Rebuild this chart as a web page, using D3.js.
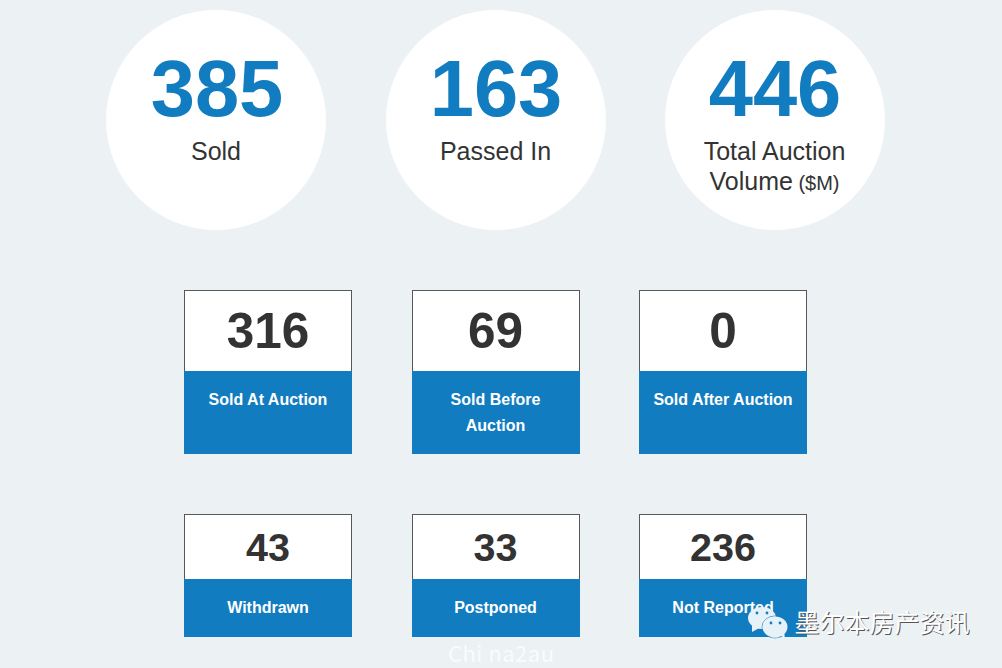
<!DOCTYPE html>
<html>
<head>
<meta charset="utf-8">
<script src="https://cdn.jsdelivr.net/npm/d3@7"></script>
<style>
  html, body { margin: 0; padding: 0; background: #ecf1f4; overflow: hidden; }
  svg { display: block; }
  text { font-family: "Liberation Sans", Arial, sans-serif; text-anchor: middle; }
</style>
</head>
<body>
<script>
var circleValues = [385, 163, 446]
var circleLabels = [['Sold'], ['Passed In'], ['Total Auction', 'Volume']]
var topValues = [316, 69, 0]
var topLabels = [['Sold At Auction'], ['Sold Before', 'Auction'], ['Sold After Auction']]
var bottomValues = [43, 33, 236]
var bottomLabels = [['Withdrawn'], ['Postponed'], ['Not Reported']]

var width = 1002, height = 668
var blue = '#127cc0', dark = '#333333', edge = '#55595c'

var svg = d3.select('body').append('svg')
  .attr('width', width)
  .attr('height', height)

var circle_x = d3.scalePoint().domain(d3.range(3)).range([216, 775])
var box_x = d3.scalePoint().domain(d3.range(3)).range([184, 639])
var box_w = 168

// big circles
var circles = svg.selectAll('g.stat')
  .data(circleValues)
  .enter().append('g')
  .attr('class', 'stat')
  .attr('transform', function(d, i) { return 'translate(' + Math.round(circle_x(i)) + ',120)' })

circles.append('circle')
  .attr('r', 110)
  .attr('fill', '#fff')

circles.append('text')
  .attr('x', function(d, i) { return i == 0 ? 1 : 0 })
  .attr('y', -4)
  .attr('font-size', 79.5)
  .attr('font-weight', 'bold')
  .attr('fill', blue)
  .text(function(d) { return d })

circles.each(function(d, i) {
  var g = d3.select(this)
  circleLabels[i].forEach(function(line, j) {
    var t = g.append('text')
      .attr('x', i == 0 ? 0 : -0.5)
      .attr('y', 40 + j * 30)
      .attr('font-size', 25)
      .attr('fill', dark)
      .text(line)
    if (j == 1) {
      t.append('tspan').attr('font-size', 20).text(' ($M)')
    }
  })
})

// boxes, one row at a time
function make_row(values, labels, top, h_white, h_blue, num_size, num_y, label_y) {
  var boxes = svg.selectAll('g.box' + top)
    .data(values)
    .enter().append('g')
    .attr('class', 'box' + top)
    .attr('transform', function(d, i) { return 'translate(' + Math.round(box_x(i)) + ',' + top + ')' })

  boxes.append('rect')
    .attr('x', 0.5)
    .attr('y', 0.5)
    .attr('width', box_w - 1)
    .attr('height', h_white)
    .attr('fill', '#fff')
    .attr('stroke', edge)

  boxes.append('rect')
    .attr('y', h_white)
    .attr('width', box_w)
    .attr('height', h_blue)
    .attr('fill', blue)

  boxes.append('text')
    .attr('x', function(d, i) { return box_w / 2 - (i == 1 ? 0.5 : 0) })
    .attr('y', num_y)
    .attr('font-size', num_size)
    .attr('font-weight', 'bold')
    .attr('fill', dark)
    .text(function(d) { return d })

  boxes.each(function(d, i) {
    var g = d3.select(this)
    labels[i].forEach(function(line, j) {
      g.append('text')
        .attr('x', box_w / 2 - (i == 1 ? 0.5 : 0))
        .attr('y', label_y + j * 26)
        .attr('font-size', 16)
        .attr('font-weight', 'bold')
        .attr('fill', '#fff')
        .text(line)
    })
  })
}

make_row(topValues, topLabels, 290, 81, 83, 49.5, 58, 115)
make_row(bottomValues, bottomLabels, 514, 65, 58, 39.5, 47, 99)

// watermark
var mark = svg.append('g')

function bubble(cx, cy, rx, ry, tail) {
  mark.append('ellipse')
    .attr('cx', cx).attr('cy', cy).attr('rx', rx).attr('ry', ry)
    .attr('fill', '#e6f1f8')
  mark.append('path')
    .attr('d', tail)
    .attr('fill', '#e6f1f8')
}
bubble(762, 618, 14, 11, 'M752,624L752,632L761,627Z')
mark.append('ellipse')
  .attr('cx', 775).attr('cy', 627).attr('rx', 13).attr('ry', 11)
  .attr('fill', 'none')
  .attr('stroke', blue)
  .attr('stroke-opacity', 0.7)
  .attr('stroke-width', 1)
bubble(775, 627, 12.5, 10.5, 'M780,635L785,639L784,631Z')
;[[757, 613], [767, 613], [771, 623], [780, 623]].forEach(function(p) {
  mark.append('circle')
    .attr('cx', p[0]).attr('cy', p[1]).attr('r', 1.4)
    .attr('fill', blue)
})

var cn = '墨尔本房产资讯'
mark.append('text')
  .attr('x', 883).attr('y', 632.5)
  .attr('font-size', 25)
  .attr('fill', '#555')
  .style('font-family', '"Noto Sans CJK SC"')
  .text(cn)
mark.append('text')
  .attr('x', 882).attr('y', 632)
  .attr('font-size', 25)
  .attr('fill', '#fff')
  .style('font-family', '"Noto Sans CJK SC"')
  .text(cn)

svg.append('text')
  .attr('x', 501).attr('y', 661.5)
  .attr('font-size', 22)
  .attr('fill', '#fff')
  .attr('fill-opacity', 0.75)
  .style('font-family', '"Noto Sans CJK SC"')
  .attr('textLength', 106)
  .text('Chi na2au')
</script>
</body>
</html>
